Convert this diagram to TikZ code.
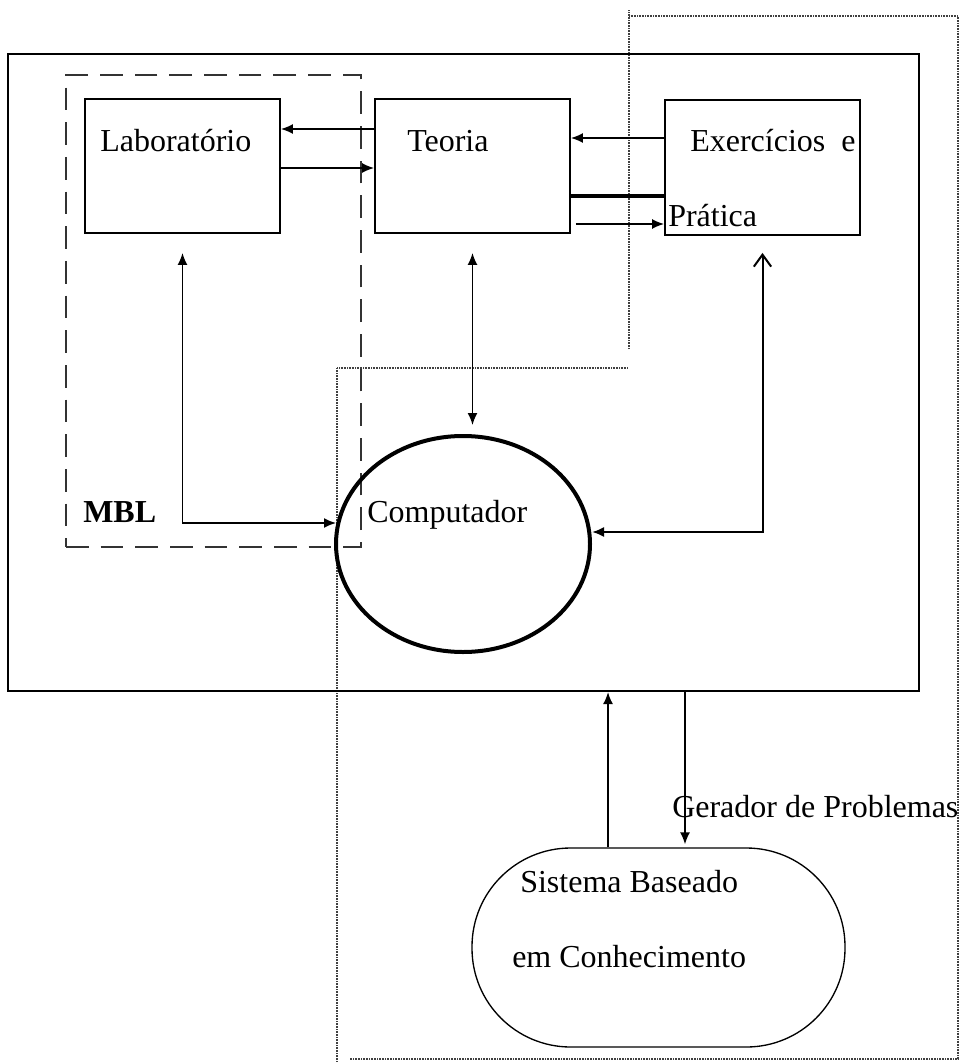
\documentclass[tikz,border=0pt]{standalone}
\usepackage{fontspec}
\setmainfont{Liberation Serif}
\usetikzlibrary{arrows.meta,fit,calc,shapes.geometric}

\begin{document}
\begin{tikzpicture}[x=0.75pt,y=-0.75pt,
  >={Latex[length=9pt,width=7.5pt]},
  lbl/.style={anchor=base west,inner sep=0pt,font=\fontsize{24}{28}\selectfont},
  box/.style={draw,line width=1.4pt,inner sep=0pt},
  link/.style={line width=1.2pt},
  dotline/.style={line width=1pt,black!75,dash pattern=on 0.7pt off 0.5pt}]

\useasboundingbox (0,0) rectangle (960,1062);

% dotted outline of the problem-generator region
\draw[dotline] (629,349) -- (629,10);
\draw[dotline] (629,16) -- (958,16) -- (958,1059) -- (350,1059);
\draw[dotline] (337,1062) -- (337,368) -- (628,368);

% environment frame and the MBL group
\node[box, line width=1.6pt, fit={(8,54) (919,691)}] (frame) {};
\node[draw, black!80, line width=0.8pt, dash pattern=on 17pt off 9pt,
      inner sep=0pt, fit={(66,75) (361,547)}] (mbl) {};

% module boxes
\node[box, fit={(85,99) (280,233)}] (lab) {};
\node[box, fit={(375,99) (570,233)}] (teo) {};
\node[box, fit={(665,100) (860,235)}] (exer) {};

% computer and knowledge-based system
\node[draw, ellipse, line width=3pt, minimum width=190.5pt,
      minimum height=162pt, inner sep=0pt] (comp) at (463,544) {};
\node[draw, rectangle, rounded corners=74pt, line width=1pt,
      minimum width=279.75pt, minimum height=149.25pt, inner sep=0pt]
      (sbc) at (658.5,947.5) {};

% labels
\node[lbl] (tlab) at (100,152) {Laboratório};
\node[lbl] (tteo) at (407,152) {Teoria};
\node[lbl] (texer) at (690,152) {Exercícios~~e};
\node[lbl] (tprat) at (668,227) {Prática};
\node[lbl] (tcomp) at (367,522) {Computador};
\node[lbl, font=\fontsize{24}{28}\selectfont\bfseries] (tmbl) at (83,522) {MBL};
\node[lbl] (tsis) at (520,892) {Sistema Baseado};
\node[lbl] (tcon) at (512,967) {em Conhecimento};
\node[lbl] (tger) at (672,817) {Gerador de Problemas};

% links between the modules
\draw[link,->] (teo.west |- 0,129) -- (lab.east |- 0,129);
\draw[link,->] (lab.east |- 0,168) -- (teo.west |- 0,168);
\draw[link,->] (exer.west |- 0,138) -- (teo.east |- 0,138);
\draw[line width=3.5pt] (teo.east |- 0,196) -- (exer.west |- 0,196);
\draw[link,->] ($(teo.east |- 0,224)+(5,0)$) -- (exer.west |- 0,224);

% links to the computer
\draw[link,<->] ($(lab.south)+(0,19)$) |- ($(comp.west |- 0,523)+(2,0)$);
\draw[link,<->] ($(teo.south)+(0,19)$) -- ($(teo.south |- comp.north)+(0,-9)$);
\draw[line width=1.5pt,
      {Straight Barb[length=9pt,width=13pt]}-{Latex[length=9pt,width=7.5pt]}]
      ($(exer.south)+(0,17)$) |- (comp.east |- 0,532);

% links to the knowledge-based system
\draw[link,->] (608,0 |- sbc.north) -- (608,0 |- frame.south);
\draw[link,->] (685,0 |- frame.south) -- ($(685,0 |- sbc.north)+(0,-3)$);

\end{tikzpicture}
\end{document}
